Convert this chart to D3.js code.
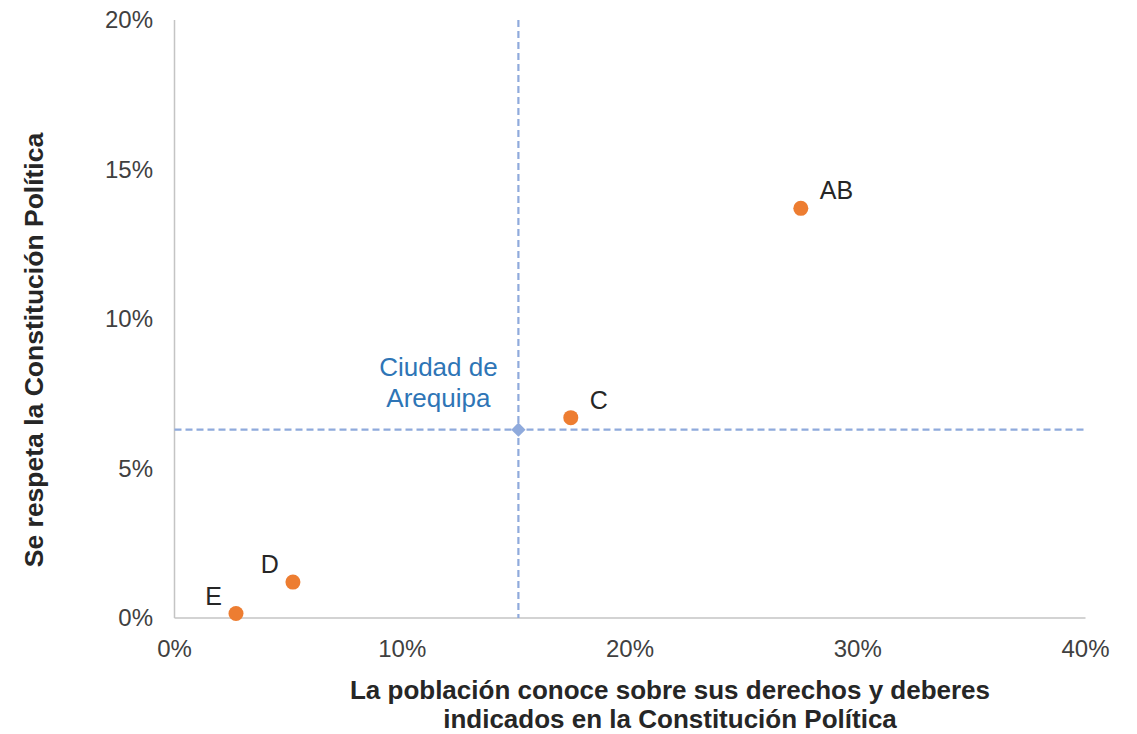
<!DOCTYPE html>
<html>
<head>
<meta charset="utf-8">
<script src="https://cdn.jsdelivr.net/npm/d3@7"></script>
<style>
  body { margin: 0; background: #fff; }
  svg { font-family: "Liberation Sans", Arial, sans-serif; }
</style>
</head>
<body>
<svg id="chart" width="1137" height="734"></svg>
<script>
// segments: x = knows rights (%), y = respects constitution (%)
const segments = ["AB", "C", "D", "E"];
const knowValues = [27.5, 17.4, 5.2, 2.7];
const respectValues = [13.7, 6.7, 1.2, 0.15];

// city reference point
const cityName = ["Ciudad de", "Arequipa"];
const cityKnow = 15.1;
const cityRespect = 6.3;

const xTicks = [0, 10, 20, 30, 40];
const yTicks = [0, 5, 10, 15, 20];

const svg = d3.select("#chart");
const margin = { left: 174.5, right: 1085.5, top: 20, bottom: 618 };

const x = d3.scaleLinear().domain([0, 40]).range([margin.left, margin.right]);
const y = d3.scaleLinear().domain([0, 20]).range([margin.bottom, margin.top]);

// axes lines
svg.append("line")
  .attr("x1", x(0)).attr("x2", x(0))
  .attr("y1", y(20)).attr("y2", y(0))
  .attr("stroke", "#c4c4c4").attr("stroke-width", 1.5);
svg.append("line")
  .attr("x1", x(0)).attr("x2", x(40))
  .attr("y1", y(0)).attr("y2", y(0))
  .attr("stroke", "#c4c4c4").attr("stroke-width", 1.5);

// tick labels
svg.selectAll(".xt").data(xTicks).enter().append("text")
  .attr("x", d => x(d)).attr("y", 657)
  .attr("text-anchor", "middle")
  .attr("font-size", "24px").attr("fill", "#404040")
  .text(d => d + "%");
svg.selectAll(".yt").data(yTicks).enter().append("text")
  .attr("x", 153).attr("y", d => y(d) + 8)
  .attr("text-anchor", "end")
  .attr("font-size", "24px").attr("fill", "#404040")
  .text(d => d + "%");

// city reference lines (dashed)
const refColor = "#8faadc";
svg.append("line")
  .attr("x1", x(cityKnow)).attr("x2", x(cityKnow))
  .attr("y1", y(20)).attr("y2", y(0))
  .attr("stroke", refColor).attr("stroke-width", 2.2)
  .attr("stroke-dasharray", "7,4");
svg.append("line")
  .attr("x1", x(0)).attr("x2", x(40))
  .attr("y1", y(cityRespect)).attr("y2", y(cityRespect))
  .attr("stroke", refColor).attr("stroke-width", 2.2)
  .attr("stroke-dasharray", "7,4");
svg.append("path")
  .attr("d", d3.symbol().type(d3.symbolDiamond2).size(130))
  .attr("transform", `translate(${x(cityKnow)},${y(cityRespect)})`)
  .attr("fill", refColor);

svg.append("text")
  .attr("text-anchor", "middle")
  .attr("font-size", "26px").attr("fill", "#2e75b6")
  .selectAll("tspan").data(cityName).enter().append("tspan")
  .attr("x", x(cityKnow) - 80)
  .attr("y", (d, i) => y(cityRespect) - 54 + i * 31)
  .text(d => d);

// points
const pts = segments.map((s, i) => ({ name: s, kx: knowValues[i], ry: respectValues[i] }));
svg.selectAll(".pt").data(pts).enter().append("circle")
  .attr("cx", d => x(d.kx)).attr("cy", d => y(d.ry))
  .attr("r", 7.5).attr("fill", "#ed7d31");

// point labels: AB and C to the upper right, D and E to the upper left
const left = d => d.name === "D" || d.name === "E";
svg.selectAll(".pl").data(pts).enter().append("text")
  .attr("x", d => x(d.kx) + (left(d) ? -14 : 19))
  .attr("y", d => y(d.ry) - 9)
  .attr("text-anchor", d => left(d) ? "end" : "start")
  .attr("font-size", "25px").attr("fill", "#262626")
  .text(d => d.name);

// axis titles
svg.append("text")
  .attr("text-anchor", "middle")
  .attr("font-size", "26px").attr("font-weight", "bold").attr("fill", "#262626")
  .selectAll("tspan")
  .data(["La población conoce sobre sus derechos y deberes", "indicados en la Constitución Política"])
  .enter().append("tspan")
  .attr("x", 670).attr("y", (d, i) => 699 + i * 29)
  .text(d => d);

svg.append("text")
  .attr("transform", "translate(43,350) rotate(-90)")
  .attr("text-anchor", "middle")
  .attr("font-size", "26.5px").attr("font-weight", "bold").attr("fill", "#262626")
  .text("Se respeta la Constitución Política");
</script>
</body>
</html>
